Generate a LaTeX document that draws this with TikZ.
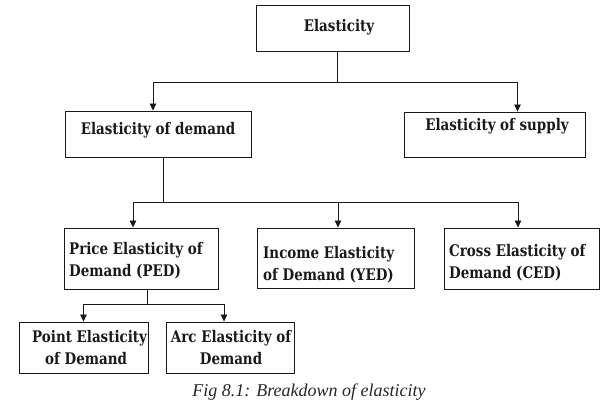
\documentclass[tikz,border=0pt]{standalone}
\usepackage{fontspec}
\setmainfont{DejaVu Serif}
\newfontfamily\boxfont{DejaVu Serif}[FakeStretch=0.84]
\newfontfamily\capfont{Liberation Serif}
\usetikzlibrary{arrows.meta}
\begin{document}
\begin{tikzpicture}[x=1pt,y=-1pt,
  box/.style={draw=black!90, line width=0.9pt, inner sep=0pt, rectangle},
  lbl/.style={inner sep=0pt, font=\boxfont\fontsize{16}{22}\selectfont\bfseries, text=black!90},
  conn/.style={line width=0.8pt, draw=black!90},
  arr/.style={conn, -{Triangle[length=7pt,width=6.5pt]}}]
\useasboundingbox (0,0) rectangle (612,405);

% boxes
\node[box, minimum width=153pt, minimum height=46pt] (el)  at (332.5,28) {};
\node[box, minimum width=186pt, minimum height=46pt] (dem) at (158,134) {};
\node[box, minimum width=181pt, minimum height=45pt] (sup) at (494.5,134.5) {};
\node[box, minimum width=154pt, minimum height=61pt] (ped) at (141,258.5) {};
\node[box, minimum width=157pt, minimum height=60pt] (yed) at (335.5,258) {};
\node[box, minimum width=155pt, minimum height=61pt] (ced) at (521.5,258.5) {};
\node[box, minimum width=129pt, minimum height=51pt] (pt)  at (83.5,347.5) {};
\node[box, minimum width=128pt, minimum height=51pt] (arc) at (230,347.5) {};

% texts (multi-line nodes: base anchor sits on the last line)
\node[lbl, anchor=base] (elt)  at (339,31)  {Elasticity};
\node[lbl, anchor=base] (demt) at (158,134) {Elasticity of demand};
\node[lbl, anchor=base] (supt) at (497,130) {Elasticity of supply};
\node[lbl, anchor=base west, align=left] (pedt) at (69,276)  {Price Elasticity of\\Demand (PED)};
\node[lbl, anchor=base west, align=left] (yedt) at (263,280) {Income Elasticity\\of Demand (YED)};
\node[lbl, anchor=base west, align=left] (cedt) at (449,278) {Cross Elasticity of\\Demand (CED)};
\node[lbl, anchor=base west, align=left] (ptt)  at (32,364)  {Point Elasticity\\\hspace*{13pt}of Demand};
\node[lbl, anchor=base, align=center] (arct) at (231,364)    {Arc Elasticity of\\Demand};

\node[inner sep=0pt, anchor=base, text=black!85, font=\capfont\itshape\fontsize{18}{20}\selectfont] (cap) at (309,396) {Fig 8.1: Breakdown of elasticity};

% connectors
\coordinate (j1) at (337,82);
\draw[conn] (el.south -| j1) -- (j1);
\draw[arr] (j1) -| ([xshift=-5pt]dem.north);
\draw[arr] (j1) -| ([xshift=23pt]sup.north);

\coordinate (j2) at (163,202);
\draw[conn] (dem.south -| j2) -- (j2);
\draw[arr] (j2) -| ([xshift=-8pt]ped.north);
\draw[arr] (j2) -| ([xshift=-3.5pt]ced.north);
\draw[arr] ([xshift=2.5pt]yed.north |- j2) -- ([xshift=2.5pt]yed.north);

\coordinate (j3) at (147,304);
\draw[conn] (ped.south -| j3) -- (j3);
\draw[arr] (j3) -| (pt.north);
\draw[arr] (j3) -| ([xshift=-6pt]arc.north);
\end{tikzpicture}
\end{document}
